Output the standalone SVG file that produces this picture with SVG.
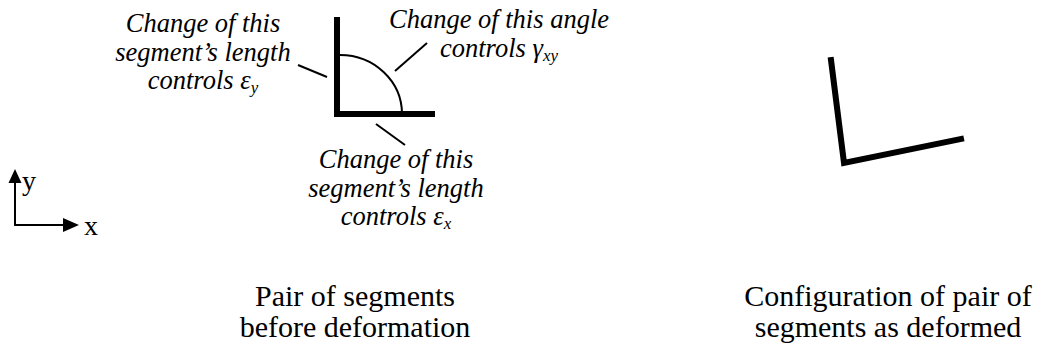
<svg xmlns="http://www.w3.org/2000/svg" width="1047" height="349" viewBox="0 0 1047 349">
<style>
.lab{font-family:"Liberation Serif","Times New Roman",Times,serif;font-style:italic;font-size:26.5px;fill:#000;text-anchor:middle}
.cap{font-family:"Liberation Serif","Times New Roman",Times,serif;font-size:30px;fill:#000;text-anchor:middle}
.ax{font-family:"Liberation Serif","Times New Roman",Times,serif;font-size:28px;fill:#000}
.sub{font-size:17px}
.seg{stroke:#000;stroke-width:6;fill:none;stroke-linecap:square}
.thin{stroke:#000;stroke-width:2;fill:none}
.head{fill:#000}
</style>
<g id="axes">
<line class="thin" x1="15" y1="226" x2="15" y2="182"/>
<polygon class="head" points="15,169 8.5,183 21.5,183"/>
<line class="thin" x1="14" y1="225" x2="64" y2="225"/>
<polygon class="head" points="79,225 63,218 63,232"/>
<text class="ax" x="22" y="190">y</text>
<text class="ax" x="84" y="235">x</text>
</g>
<g id="undeformed">
<line class="seg" x1="337" y1="20" x2="337" y2="114"/>
<line class="seg" x1="337" y1="114" x2="432" y2="114"/>
<path class="thin" d="M340,55 A62,59 0 0 1 402,114"/>
</g>
<g id="deformed">
<polyline class="seg" points="831,60 844,163 961,139" stroke-linejoin="miter"/>
</g>
<g id="connectors">
<line class="thin" x1="298" y1="65" x2="327" y2="77"/>
<line class="thin" x1="395" y1="71" x2="427" y2="43"/>
<line class="thin" x1="376" y1="124" x2="405" y2="145"/>
</g>
<g id="label-ey">
<text class="lab" x="203" y="32">Change of this</text>
<text class="lab" x="203" y="61">segment’s length</text>
<text class="lab" x="203" y="89">controls ε<tspan class="sub" dy="4">y</tspan></text>
</g>
<g id="label-gxy">
<text class="lab" x="499" y="28">Change of this angle</text>
<text class="lab" x="499" y="57">controls γ<tspan class="sub" dy="4">xy</tspan></text>
</g>
<g id="label-ex">
<text class="lab" x="396" y="168">Change of this</text>
<text class="lab" x="396" y="197">segment’s length</text>
<text class="lab" x="396" y="225">controls ε<tspan class="sub" dy="4">x</tspan></text>
</g>
<g id="caption-before">
<text class="cap" x="355" y="306">Pair of segments</text>
<text class="cap" x="355" y="337">before deformation</text>
</g>
<g id="caption-after">
<text class="cap" x="888" y="306">Configuration of pair of</text>
<text class="cap" x="888" y="337">segments as deformed</text>
</g>
</svg>
